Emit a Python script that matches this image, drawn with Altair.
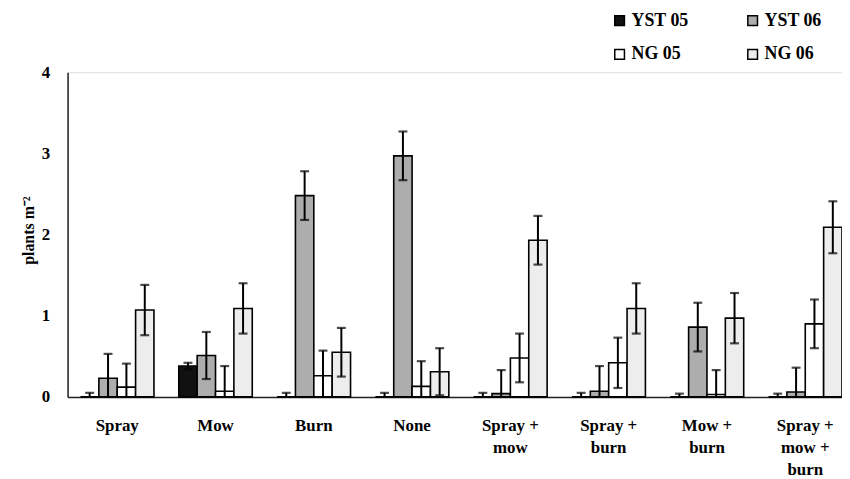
import altair as alt
import pandas as pd

categories = ["Spray", "Mow", "Burn", "None", "Spray + mow", "Spray + burn",
              "Mow + burn", "Spray + mow + burn"]
series = ["YST 05", "YST 06", "NG 05", "NG 06"]
colors = ["#111111", "#adadad", "#ffffff", "#ededed"]

yst05 = [0.0, 0.38, 0.0, 0.0, 0.0, 0.0, 0.0, 0.0]
yst05_err = [0.05, 0.04, 0.05, 0.05, 0.05, 0.05, 0.04, 0.04]
yst06 = [0.23, 0.51, 2.48, 2.97, 0.04, 0.07, 0.86, 0.06]
yst06_err = [0.30, 0.29, 0.30, 0.30, 0.29, 0.31, 0.30, 0.30]
ng05 = [0.12, 0.07, 0.26, 0.13, 0.48, 0.42, 0.03, 0.90]
ng05_err = [0.29, 0.31, 0.31, 0.31, 0.30, 0.31, 0.30, 0.30]
ng06 = [1.07, 1.09, 0.55, 0.31, 1.93, 1.09, 0.97, 2.09]
ng06_err = [0.31, 0.31, 0.30, 0.29, 0.30, 0.31, 0.31, 0.32]

means = [yst05, yst06, ng05, ng06]
errs = [yst05_err, yst06_err, ng05_err, ng06_err]

rows = []
caps = []
for s, mv, ev in zip(series, means, errs):
    for c, m, e in zip(categories, mv, ev):
        lo = m - e
        rows.append({"category": c, "series": s, "mean": m, "err": e,
                     "lo": max(lo, 0.0), "hi": m + e})
        caps.append({"category": c, "series": s, "y": m + e})
        if lo > 0:
            caps.append({"category": c, "series": s, "y": lo})
df = pd.DataFrame(rows)
cap_df = pd.DataFrame(caps)

FONT = "Liberation Serif"

x_enc = alt.X(
    "category:N", sort=categories, title=None,
    scale=alt.Scale(paddingInner=0.2525, paddingOuter=0.0657, align=1),
    axis=alt.Axis(
        labelAngle=0, ticks=False, labelPadding=21, labelFontSize=17,
        labelFontWeight="bold", labelLineHeight=22, labelColor="#000000",
        domainColor="#222222", domainWidth=1.5, labelFont=FONT,
        labelExpr="split(replace(replace(datum.value, '+ ', '+|'), '+ ', '+|'), '|')",
    ),
)
xo_enc = alt.XOffset("series:N", sort=series)

y_scale = alt.Scale(domain=[0, 4], nice=False)

bars = alt.Chart(df).mark_bar(stroke="#000000", strokeWidth=1.6).encode(
    x=x_enc,
    xOffset=xo_enc,
    y=alt.Y(
        "mean:Q", scale=y_scale, title="plants  m⁻²",
        axis=alt.Axis(
            values=[0, 1, 2, 3, 4], format="d", grid=False, ticks=False,
            labelPadding=18, labelFontSize=17, labelFontWeight="bold",
            labelColor="#000000", labelFont=FONT, domainColor="#222222",
            domainWidth=1.5, titleFont=FONT, titleFontSize=16,
            titleFontWeight="bold", titleColor="#000000",
            titleX=-31, titleY=159,
        ),
    ),
    fill=alt.Fill(
        "series:N", sort=series,
        scale=alt.Scale(domain=series, range=colors),
        legend=alt.Legend(
            title=None, orient="none", legendX=547, legendY=-61, columns=2,
            direction="horizontal",
            symbolType="square", symbolSize=95, symbolStrokeColor="#000000",
            symbolStrokeWidth=1.5, labelFont=FONT, labelFontSize=18,
            labelFontWeight="bold", labelColor="#000000", labelOffset=3,
            columnPadding=55, rowPadding=16,
        ),
    ),
)

rules = alt.Chart(df).mark_rule(color="#000000", strokeWidth=2).encode(
    x=alt.X("category:N", sort=categories),
    xOffset=xo_enc,
    y=alt.Y("lo:Q", scale=y_scale),
    y2="hi:Q",
)

cap_marks = alt.Chart(cap_df).mark_tick(
    color="#000000", thickness=2.2, size=9
).encode(
    x=alt.X("category:N", sort=categories),
    xOffset=xo_enc,
    y=alt.Y("y:Q", scale=y_scale),
)

chart = alt.layer(bars, rules, cap_marks).properties(
    width=780, height=327,
    autosize=alt.AutoSizeParams(type="none"),
    padding={"left": 60, "top": 63, "right": 0, "bottom": 81},
).configure_view(stroke=None).configure(font=FONT, background="#ffffff")

chart.save("out.html", embed_options={"renderer": "svg", "actions": False})
